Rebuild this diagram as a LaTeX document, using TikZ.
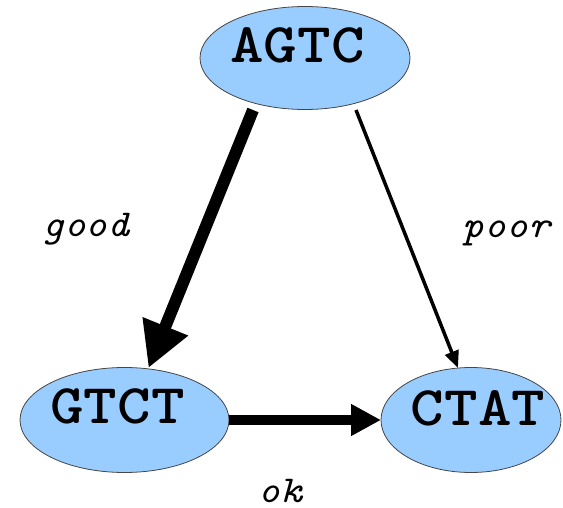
\documentclass[tikz,border=0pt]{standalone}
\usepackage{graphicx}
\usetikzlibrary{shapes.geometric,arrows.meta}
\definecolor{nodeblue}{RGB}{153,204,255}
\definecolor{edgegray}{RGB}{70,70,70}
\begin{document}
\begin{tikzpicture}[x=1pt,y=1pt,
  state/.style={ellipse, draw=edgegray, line width=0.8pt, fill=nodeblue, inner sep=0pt, outer sep=0pt},
  seqtext/.style={font=\ttfamily\bfseries\fontsize{56}{60}\selectfont, inner sep=0pt},
  edgelabel/.style={font=\ttfamily\itshape\fontsize{38}{42}\selectfont, anchor=base, inner sep=0pt}]
\useasboundingbox (0,0) rectangle (563,507);
\node[state, minimum width=210pt, minimum height=103pt,
  label={[seqtext, xshift=-7.5pt, yshift=12.5pt]center:\scalebox{1.14}[1]{AGTC}}] (agtc) at (305,449) {};
\node[state, minimum width=209pt, minimum height=105pt,
  label={[seqtext, xshift=-7pt, yshift=13.5pt]center:\scalebox{1.14}[1]{GTCT}}] (gtct) at (124.5,87) {};
\node[state, minimum width=180pt, minimum height=105pt,
  label={[seqtext, xshift=7pt, yshift=12pt]center:\scalebox{1.14}[1]{CTAT}}] (ctat) at (471,87) {};
\draw[line width=12pt, -{Triangle[length=45pt,width=46pt]}]
  ([shift={(-52,-52)}]agtc.center) -- ([shift={(24,52)}]gtct.center);
\draw[line width=10.5pt, -{Triangle[length=30pt,width=30pt]}] (gtct.east) -- (ctat.west);
\draw[line width=3.5pt, -{Triangle[length=17pt,width=14pt]}]
  ([shift={(51,-52)}]agtc.center) -- ([shift={(-13,52)}]ctat.center);
\node[edgelabel] (lgood) at (86,270) {\scalebox{1.1}[1]{good}};
\node[edgelabel] (lpoor) at (506.5,269) {\scalebox{1.1}[1]{poor}};
\node[edgelabel] (lok) at (280,5) {\scalebox{1.1}[1]{ok}};
\end{tikzpicture}
\end{document}
